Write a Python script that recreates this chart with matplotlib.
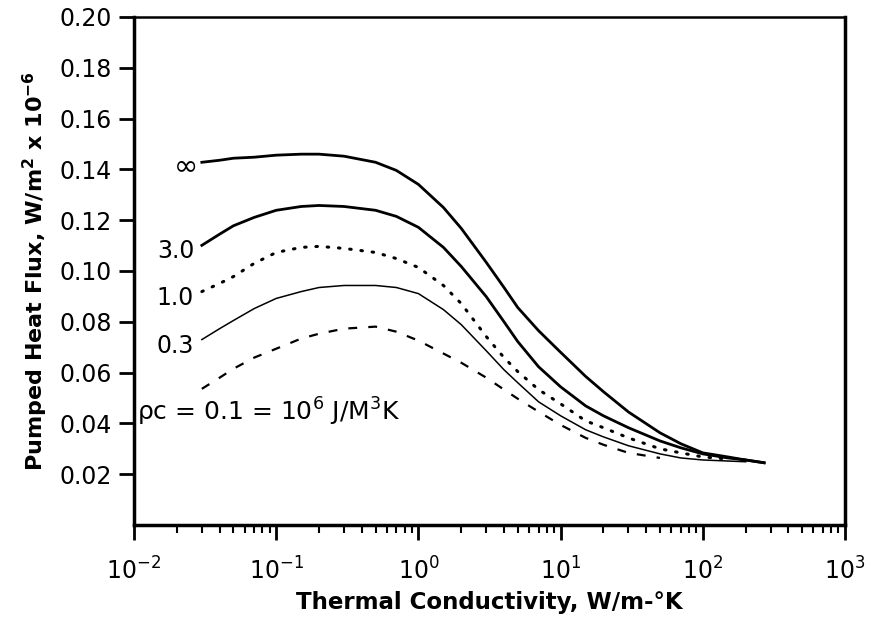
import numpy as np
import matplotlib
matplotlib.use("Agg")
import matplotlib.pyplot as plt

# Thermal conductivity (W/m-K)
x_inf = [0.03, 0.04, 0.05, 0.07, 0.1, 0.15, 0.2, 0.3, 0.5, 0.7, 1, 1.5, 2, 3, 4, 5, 7,
         10, 15, 20, 30, 50, 70, 100, 150, 200, 270]
# Pumped heat flux (W/m^2 x 1e-6) for each rho*c label
y_inf = [0.1428, 0.1436, 0.1444, 0.1448, 0.1456, 0.1460, 0.1460, 0.1452, 0.1428, 0.1396,
         0.1341, 0.1250, 0.1168, 0.1034, 0.0935, 0.0856, 0.0765, 0.0680, 0.0585, 0.0525,
         0.0445, 0.0363, 0.0320, 0.0284, 0.0268, 0.0256, 0.0245]

x_30 = x_inf
y_30 = [0.1101, 0.1145, 0.1178, 0.1211, 0.1239, 0.1254, 0.1258, 0.1254, 0.1239, 0.1215,
        0.1172, 0.1093, 0.1018, 0.0899, 0.0800, 0.0722, 0.0623, 0.0544, 0.0469, 0.0430,
        0.0383, 0.0331, 0.0304, 0.0280, 0.0264, 0.0256, 0.0245]

x_10 = [0.03, 0.04, 0.05, 0.07, 0.1, 0.15, 0.2, 0.3, 0.5, 0.7, 1, 1.5, 2, 3, 4, 5, 7,
        10, 15, 20, 30, 50, 70, 100, 150]
y_10 = [0.0919, 0.0951, 0.0978, 0.1030, 0.1073, 0.1093, 0.1097, 0.1089, 0.1073, 0.1049,
        0.1014, 0.0943, 0.0872, 0.0742, 0.0659, 0.0604, 0.0533, 0.0477, 0.0410, 0.0383,
        0.0343, 0.0300, 0.0284, 0.0268, 0.0260]

x_03 = [0.03, 0.04, 0.05, 0.07, 0.1, 0.15, 0.2, 0.3, 0.5, 0.7, 1, 1.5, 2, 3, 4, 5, 7,
        10, 15, 20, 30, 50, 70, 100, 200]
y_03 = [0.0730, 0.0773, 0.0805, 0.0852, 0.0892, 0.0919, 0.0935, 0.0943, 0.0943, 0.0935,
        0.0911, 0.0848, 0.0789, 0.0686, 0.0611, 0.0560, 0.0485, 0.0430, 0.0375, 0.0347,
        0.0312, 0.0280, 0.0264, 0.0256, 0.0249]

x_01 = [0.03, 0.04, 0.05, 0.07, 0.1, 0.15, 0.2, 0.3, 0.5, 0.7, 1, 1.5, 2, 3, 4, 5, 7,
        10, 15, 20, 30, 50]
y_01 = [0.0536, 0.0580, 0.0615, 0.0659, 0.0694, 0.0734, 0.0753, 0.0773, 0.0781, 0.0761,
        0.0726, 0.0675, 0.0639, 0.0580, 0.0533, 0.0497, 0.0446, 0.0394, 0.0343, 0.0316,
        0.0284, 0.0264]

y_ticks = [0.02, 0.04, 0.06, 0.08, 0.10, 0.12, 0.14, 0.16, 0.18, 0.20]
x_ticks = [1e-2, 1e-1, 1e0, 1e1, 1e2, 1e3]
x_ticklabels = ["$10^{-2}$", "$10^{-1}$", "$10^{0}$", "$10^{1}$", "$10^{2}$", "$10^{3}$"]

plt.rcParams['font.family'] = ['DejaVu Sans']
plt.rcParams['mathtext.default'] = 'regular'

fig = plt.figure(figsize=(8.72, 6.19), dpi=100)
W, H = 872, 619
ax = fig.add_axes([134 / W, (H - 525) / H, (845 - 134) / W, (525 - 17) / H])

ax.plot(x_inf, y_inf, color='black', lw=2.0, solid_joinstyle='round')
ax.plot(x_30, y_30, color='black', lw=2.0, solid_joinstyle='round')
ax.plot(x_10, y_10, color='black', lw=2.2, linestyle=(0, (0.5, 3.2)),
        dash_capstyle='round')
ax.plot(x_03, y_03, color='black', lw=1.1, solid_joinstyle='round')
ax.plot(x_01, y_01, color='black', lw=1.6, linestyle=(0, (4, 5)))

ax.set_xscale('log')
ax.set_xlim(1e-2, 1e3)
ax.set_ylim(0, 0.20)
ax.set_xticks(x_ticks)
ax.set_xticklabels(x_ticklabels)
ax.set_yticks(y_ticks)
ax.set_yticklabels([f"{v:.2f}" for v in y_ticks])
ax.xaxis.set_minor_locator(matplotlib.ticker.LogLocator(base=10, subs=np.arange(2, 10)))
ax.xaxis.set_minor_formatter(matplotlib.ticker.NullFormatter())

ax.tick_params(axis='both', which='major', direction='out', length=11, width=2,
               labelsize=17, pad=5, color='black')
ax.tick_params(axis='x', which='major', pad=12)
ax.tick_params(axis='x', which='minor', direction='out', length=6, width=1.5)
ax.tick_params(top=False, right=False)

for s in ['left', 'right', 'bottom']:
    ax.spines[s].set_linewidth(2.5)
ax.spines['top'].set_linewidth(1.8)

ax.set_xlabel("Thermal Conductivity, W/m-°K", fontsize=16.5, fontweight='bold', labelpad=5)
ax.set_ylabel("Pumped Heat Flux, W/m$^2$ x 10$^{-6}$", fontsize=16, fontweight='bold', labelpad=7)

ax.text(0.0282, 0.1412, "∞", fontsize=21, ha='right', va='center')
ax.text(0.0265, 0.1077, "3.0", fontsize=17, ha='right', va='center')
ax.text(0.0265, 0.0892, "1.0", fontsize=17, ha='right', va='center')
ax.text(0.0265, 0.0706, "0.3", fontsize=17, ha='right', va='center')
ax.text(0.0105, 0.0445, "ρc = 0.1 = 10$^6$ J/M$^3$K", fontsize=18, ha='left', va='center')

fig.savefig("out.png", dpi=100)
